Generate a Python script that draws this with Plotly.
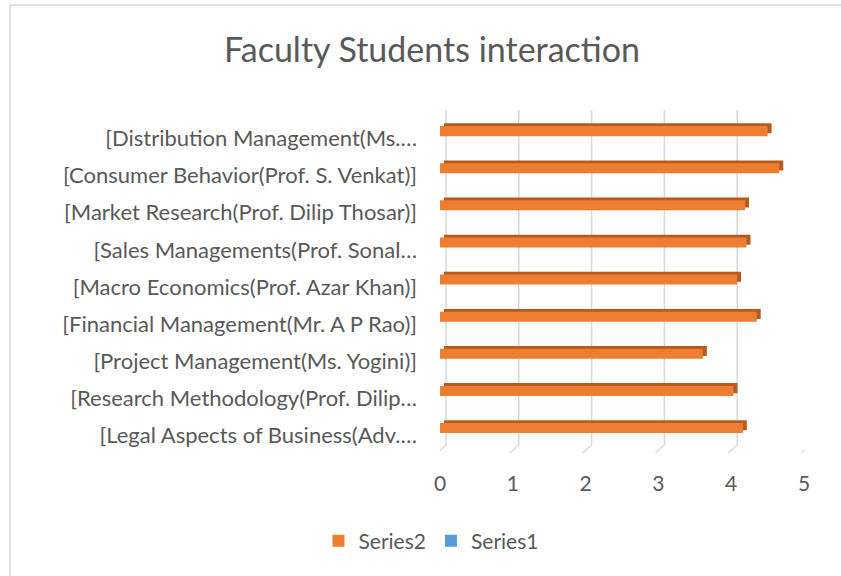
import plotly.graph_objects as go

# ---- data (bottom to top, as Plotly draws categories upward) ----
categories = [
    "[Legal Aspects of Business(Adv.\u2026",
    "[Research Methodology(Prof. Dilip\u2026",
    "[Project Management(Ms. Yogini)]",
    "[Financial Management(Mr. A P Rao)]",
    "[Macro Economics(Prof. Azar Khan)]",
    "[Sales Managements(Prof. Sonal\u2026",
    "[Market Research(Prof. Dilip Thosar)]",
    "[Consumer Behavior(Prof. S. Venkat)]",
    "[Distribution Management(Ms.\u2026",
]
series2 = [4.16, 4.03, 3.61, 4.35, 4.08, 4.21, 4.19, 4.66, 4.50]
series1 = [0, 0, 0, 0, 0, 0, 0, 0, 0]
x_ticks = [0, 1, 2, 3, 4, 5]

ORANGE = "#ED7D31"
ORANGE_DARK = "#B85A1B"
BLUE = "#5B9BD5"
GRAY_TXT = "#595959"
GRID = "#D9D9D9"
FONT = "Lato, 'Open Sans', sans-serif"

W, H = 841, 576
ML, MR, MT, MB = 440, 37, 120, 122
plot_w = W - ML - MR
plot_h = H - MT - MB
units_per_px = (x_ticks[-1] - x_ticks[0]) / plot_w

def px_to_paper_x(px):
    return (px - ML) / plot_w

def px_to_paper_y(py):
    return (H - MB - py) / plot_h

fig = go.Figure()

# 3D-ish dark top/side face of bars (drawn behind front face)
fig.add_trace(go.Bar(
    y=categories, x=series2, orientation="h",
    base=4 * units_per_px,
    offset=0.14, width=0.27,
    marker=dict(color=ORANGE_DARK, line=dict(width=0)),
    showlegend=False, hoverinfo="skip",
))
# front face
fig.add_trace(go.Bar(
    y=categories, x=series2, orientation="h", name="Series2",
    offset=0.065, width=0.27,
    marker=dict(color=ORANGE, line=dict(width=0)),
))
fig.add_trace(go.Bar(
    y=categories, x=series1, orientation="h", name="Series1",
    offset=0.065, width=0.27,
    marker=dict(color=BLUE, line=dict(width=0)),
))

# back-wall gridlines with floor feet
shapes = []
back_off = 6 * units_per_px
foot_off = -3 * units_per_px
y_top = px_to_paper_y(110)
y_wall_bottom = px_to_paper_y(445)
y_floor = px_to_paper_y(453)
for t in x_ticks:
    shapes.append(dict(type="line", xref="x", yref="paper",
                       x0=t + back_off, x1=t + back_off, y0=y_top, y1=y_wall_bottom,
                       line=dict(color=GRID, width=1.5), layer="below"))
    shapes.append(dict(type="line", xref="x", yref="paper",
                       x0=t + back_off, x1=t + foot_off, y0=y_wall_bottom, y1=y_floor,
                       line=dict(color=GRID, width=1.5), layer="below"))
# chart border
shapes.append(dict(type="rect", xref="paper", yref="paper",
                   x0=px_to_paper_x(10), x1=px_to_paper_x(W + 20),
                   y0=px_to_paper_y(H + 20), y1=px_to_paper_y(5),
                   line=dict(color=GRID, width=1.5), fillcolor="rgba(0,0,0,0)",
                   layer="below"))

fig.update_layout(
    width=W, height=H,
    margin=dict(l=ML, r=MR, t=MT, b=MB, pad=0),
    paper_bgcolor="white", plot_bgcolor="white",
    barmode="overlay",
    font=dict(family=FONT, color=GRAY_TXT, size=21),
    title=dict(text="Faculty Students interaction",
               x=432 / W, xanchor="center", xref="container",
               y=1 - 50 / H, yanchor="middle", yref="container",
               font=dict(family=FONT, size=34, color=GRAY_TXT)),
    xaxis=dict(range=[x_ticks[0], x_ticks[-1]], tickvals=x_ticks,
               showgrid=False, zeroline=False, showline=False,
               ticks="", ticklabelstandoff=15,
               tickfont=dict(size=21, color=GRAY_TXT)),
    yaxis=dict(type="category", categoryorder="array", categoryarray=categories,
               range=[-0.5, len(categories) - 0.5],
               showgrid=False, zeroline=False, showline=False,
               ticks="", ticklabelstandoff=22,
               tickfont=dict(size=22, color=GRAY_TXT)),
    legend=dict(orientation="h", traceorder="normal",
                xref="container", yref="container",
                x=431 / W, xanchor="center", y=1 - 541 / H, yanchor="middle",
                font=dict(size=21, color=GRAY_TXT),
                itemwidth=30, bgcolor="rgba(0,0,0,0)"),
    shapes=shapes,
    bargap=0.5,
)

fig.write_html("out.html", config={"displayModeBar": False},
               post_script="document.body.style.margin='0';")
